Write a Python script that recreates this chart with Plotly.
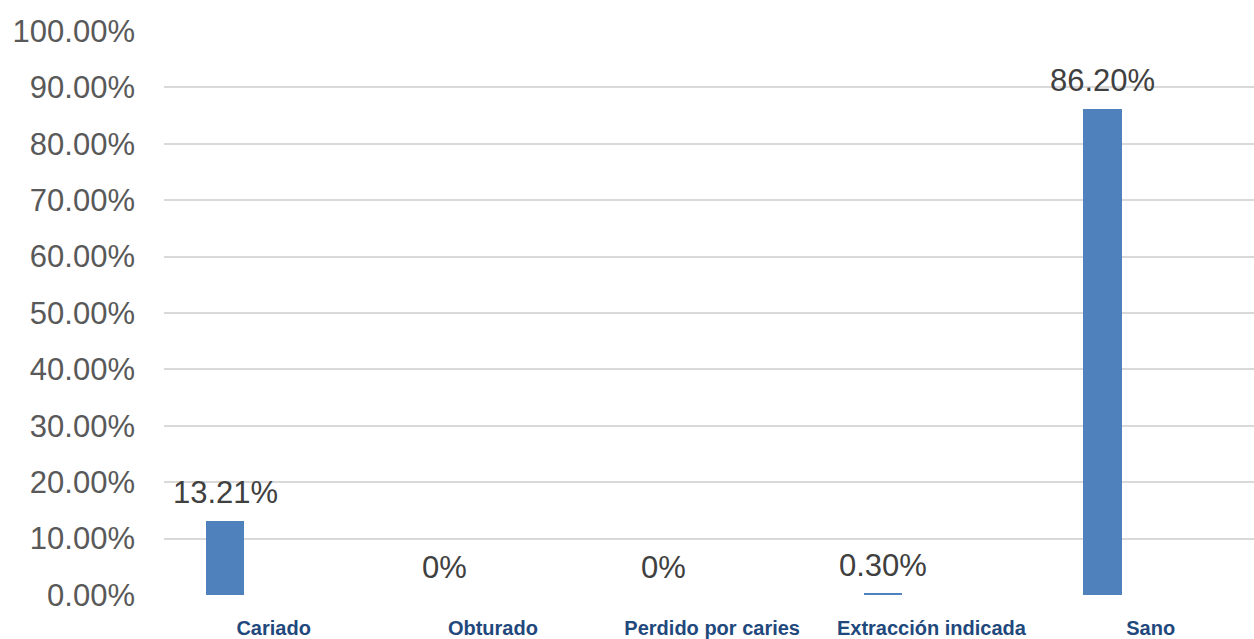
import plotly.graph_objects as go

categories = ["Cariado", "Obturado", "Perdido por caries", "Extracción indicada", "Sano"]
values = [0.1321, 0.0, 0.0, 0.0030, 0.8620]
labels = ["13.21%", "0%", "0%", "0.30%", "86.20%"]

BAR_W = 0.174
BAR_OFF = -0.307
xs = list(range(len(categories)))

fig = go.Figure()
fig.add_trace(go.Bar(
    x=xs, y=values, width=BAR_W, offset=BAR_OFF,
    marker=dict(color="#4F81BD", line=dict(width=0)),
    hoverinfo="skip", showlegend=False,
))

for x, v, t in zip(xs, values, labels):
    fig.add_annotation(
        x=x + BAR_OFF + BAR_W / 2, y=v, text=t, showarrow=False,
        xanchor="center", yanchor="middle", yshift=28,
        font=dict(family="Liberation Sans, Arial", size=31, color="#404040"),
    )

fig.update_layout(
    width=1254, height=639,
    margin=dict(l=164, r=0, t=31, b=44),
    paper_bgcolor="white", plot_bgcolor="white",
    bargap=0,
    xaxis=dict(
        range=[-0.5, 4.471], tickvals=xs, ticktext=categories,
        showgrid=False, zeroline=False, showline=False, ticks="",
        tickfont=dict(family="Liberation Sans, Arial", size=20, color="#1F497D", weight="bold"),
        ticklabelstandoff=19,
    ),
    yaxis=dict(
        range=[0, 1.0], dtick=0.1, tickformat=".2%",
        showgrid=True, gridcolor="#D9D9D9", gridwidth=1.5,
        zeroline=False, showline=False, ticks="",
        tickfont=dict(family="Liberation Sans, Arial", size=31, color="#595959"),
        ticklabelstandoff=28,
    ),
)

fig.write_html("out.html")
